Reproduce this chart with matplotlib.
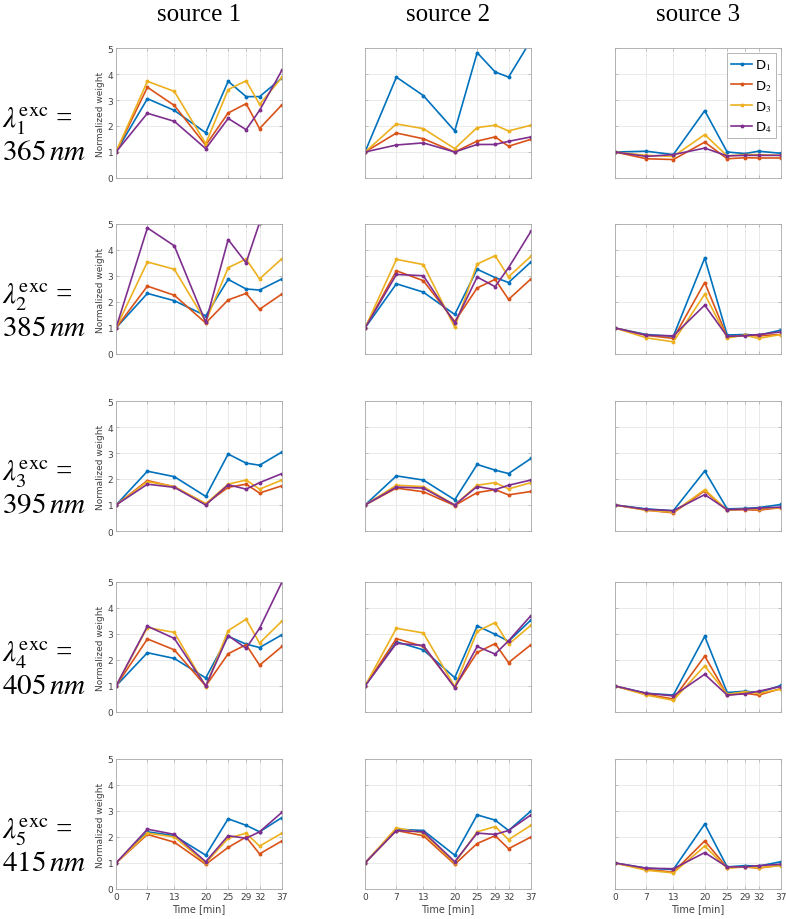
import matplotlib
matplotlib.use("Agg")
import matplotlib.pyplot as plt

plt.rcParams["mathtext.fontset"] = "stix"

TIME = [0, 7, 13, 20, 25, 29, 32, 37]
SOURCES = ["source 1", "source 2", "source 3"]
WAVELENGTHS = [365, 385, 395, 405, 415]
DETECTORS = [r"D$_1$", r"D$_2$", r"D$_3$", r"D$_4$"]
COLORS = ["#0072BD", "#D95319", "#EDB120", "#7E2F8E"]

# each block: D1, D2, D3, D4 normalized weights over TIME
s1_365 = [
    [1, 3.05, 2.60, 1.74, 3.72, 3.13, 3.13, 3.85],
    [1, 3.49, 2.79, 1.26, 2.50, 2.86, 1.90, 2.82],
    [1, 3.72, 3.33, 1.32, 3.40, 3.74, 2.83, 3.87],
    [1, 2.49, 2.18, 1.13, 2.29, 1.86, 2.60, 4.15],
]
s2_365 = [
    [1, 3.88, 3.17, 1.81, 4.82, 4.08, 3.88, 5.30],
    [1, 1.73, 1.51, 1.00, 1.42, 1.58, 1.22, 1.49],
    [1, 2.08, 1.90, 1.13, 1.94, 2.03, 1.81, 2.03],
    [1, 1.27, 1.35, 1.00, 1.29, 1.29, 1.41, 1.58],
]
s3_365 = [
    [1, 1.03, 0.90, 2.59, 1.00, 0.94, 1.03, 0.95],
    [1, 0.74, 0.71, 1.38, 0.74, 0.78, 0.77, 0.77],
    [1, 0.87, 0.83, 1.67, 0.85, 0.90, 0.90, 0.87],
    [1, 0.83, 0.90, 1.15, 0.85, 0.87, 0.87, 0.87],
]

s1_385 = [
    [1, 2.33, 2.05, 1.47, 2.87, 2.50, 2.46, 2.89],
    [1, 2.61, 2.26, 1.19, 2.08, 2.33, 1.72, 2.31],
    [1, 3.54, 3.26, 1.25, 3.32, 3.65, 2.89, 3.67],
    [1, 4.85, 4.16, 1.22, 4.40, 3.51, 5.05, 6.00],
]
s2_385 = [
    [1, 2.70, 2.38, 1.52, 3.26, 2.94, 2.75, 3.54],
    [1, 3.20, 2.82, 1.25, 2.54, 2.87, 2.10, 2.89],
    [1, 3.64, 3.44, 1.03, 3.46, 3.78, 2.97, 3.76],
    [1, 3.06, 3.01, 1.19, 2.96, 2.59, 3.32, 4.72],
]
s3_385 = [
    [1, 0.75, 0.68, 3.69, 0.73, 0.75, 0.72, 0.92],
    [1, 0.72, 0.60, 2.75, 0.65, 0.72, 0.70, 0.75],
    [1, 0.62, 0.47, 2.30, 0.62, 0.72, 0.60, 0.75],
    [1, 0.72, 0.70, 1.88, 0.68, 0.70, 0.75, 0.85],
]

s1_395 = [
    [1, 2.30, 2.09, 1.33, 2.96, 2.61, 2.53, 3.04],
    [1, 1.94, 1.70, 1.05, 1.68, 1.80, 1.46, 1.74],
    [1, 1.90, 1.71, 1.05, 1.80, 1.96, 1.61, 1.96],
    [1, 1.80, 1.68, 1.00, 1.78, 1.61, 1.86, 2.21],
]
s2_395 = [
    [1, 2.12, 1.96, 1.20, 2.56, 2.34, 2.21, 2.79],
    [1, 1.65, 1.51, 0.98, 1.48, 1.59, 1.39, 1.52],
    [1, 1.76, 1.71, 1.00, 1.76, 1.86, 1.62, 1.86],
    [1, 1.69, 1.65, 1.00, 1.71, 1.59, 1.76, 1.96],
]
s3_395 = [
    [1, 0.85, 0.78, 2.31, 0.85, 0.87, 0.90, 1.02],
    [1, 0.80, 0.70, 1.55, 0.80, 0.82, 0.80, 0.90],
    [1, 0.80, 0.72, 1.59, 0.80, 0.85, 0.85, 0.90],
    [1, 0.83, 0.78, 1.40, 0.82, 0.85, 0.88, 0.92],
]

s1_405 = [
    [1, 2.28, 2.06, 1.31, 2.91, 2.61, 2.48, 2.97],
    [1, 2.81, 2.39, 1.00, 2.24, 2.59, 1.80, 2.52],
    [1, 3.25, 3.06, 0.98, 3.13, 3.57, 2.65, 3.50],
    [1, 3.30, 2.83, 1.00, 2.94, 2.45, 3.22, 5.00],
]
s2_405 = [
    [1, 2.70, 2.39, 1.32, 3.31, 2.99, 2.72, 3.54],
    [1, 2.82, 2.52, 0.96, 2.29, 2.63, 1.90, 2.59],
    [1, 3.22, 3.04, 0.98, 3.10, 3.44, 2.60, 3.34],
    [1, 2.64, 2.56, 0.94, 2.52, 2.23, 2.74, 3.71],
]
s3_405 = [
    [1, 0.72, 0.65, 2.91, 0.75, 0.80, 0.75, 1.02],
    [1, 0.68, 0.50, 2.15, 0.65, 0.72, 0.65, 0.90],
    [1, 0.65, 0.45, 1.77, 0.68, 0.78, 0.72, 0.88],
    [1, 0.72, 0.62, 1.45, 0.65, 0.70, 0.80, 0.98],
]

s1_415 = [
    [1, 2.20, 2.05, 1.30, 2.70, 2.45, 2.20, 2.75],
    [1, 2.10, 1.80, 0.95, 1.60, 2.00, 1.35, 1.85],
    [1, 2.15, 2.00, 1.00, 1.95, 2.15, 1.65, 2.15],
    [1, 2.30, 2.10, 1.05, 2.05, 1.95, 2.20, 2.95],
]
s2_415 = [
    [1, 2.30, 2.25, 1.30, 2.85, 2.65, 2.25, 3.00],
    [1, 2.25, 2.05, 0.95, 1.75, 2.05, 1.55, 2.00],
    [1, 2.35, 2.15, 1.00, 2.20, 2.40, 1.90, 2.45],
    [1, 2.25, 2.20, 1.05, 2.15, 2.10, 2.25, 2.85],
]
s3_415 = [
    [1, 0.80, 0.75, 2.50, 0.85, 0.90, 0.88, 1.05],
    [1, 0.75, 0.65, 1.85, 0.82, 0.85, 0.80, 0.92],
    [1, 0.72, 0.62, 1.65, 0.80, 0.85, 0.82, 0.90],
    [1, 0.80, 0.78, 1.40, 0.85, 0.85, 0.90, 0.95],
]

GRID = [
    [s1_365, s2_365, s3_365],
    [s1_385, s2_385, s3_385],
    [s1_395, s2_395, s3_395],
    [s1_405, s2_405, s3_405],
    [s1_415, s2_415, s3_415],
]

W, H = 786, 920
fig = plt.figure(figsize=(W / 100, H / 100), dpi=100)

col_left = [116, 365, 615]
row_top = [49, 225, 402, 583, 760]
ax_w, ax_h = 166, 130

for r in range(5):
    for c in range(3):
        left = col_left[c] / W
        bottom = 1 - (row_top[r] + ax_h) / H
        ax = fig.add_axes([left, bottom, ax_w / W, ax_h / H])
        for d in range(4):
            ax.plot(TIME, GRID[r][c][d], color=COLORS[d], lw=1.2,
                    marker="o", ms=1.8, label=DETECTORS[d])
        ax.set_xlim(0, 37)
        ax.set_ylim(0, 5)
        ax.set_xticks(TIME)
        ax.set_yticks([0, 1, 2, 3, 4, 5])
        ax.grid(True, color="#e6e6e6", lw=0.6)
        ax.set_axisbelow(True)
        for sp in ax.spines.values():
            sp.set_color("#aaaaaa")
            sp.set_linewidth(0.6)
        ax.tick_params(direction="in", length=2.5, width=0.5, colors="#aaaaaa",
                       labelcolor="#404040", labelsize=6.5, top=True, right=True, pad=2)
        if c == 0:
            ax.set_ylabel("Normalized weight", fontsize=6.5, color="#404040", labelpad=2)
        else:
            ax.set_yticklabels([])
        if r == 4:
            ax.set_xlabel("Time [min]", fontsize=7, color="#404040", labelpad=2)
        else:
            ax.set_xticklabels([])
        if r == 0 and c == 2:
            leg = ax.legend(loc="upper right", fontsize=9.5, handlelength=1.6,
                            handletextpad=0.2, borderpad=0.3, labelspacing=0.45,
                            borderaxespad=0.4, fancybox=False, framealpha=1)
            leg.get_frame().set_edgecolor("#aaaaaa")
            leg.get_frame().set_linewidth(0.6)
        if r == 0:
            fig.text((col_left[c] + ax_w / 2) / W, 1 - 15 / H, SOURCES[c],
                     ha="center", va="center", fontsize=18, family="Liberation Serif")

    # row label: two lines, baselines placed relative to the row's axes top
    fig.text(2 / W, 1 - (row_top[r] + 78) / H,
             r"$\lambda_{%d}^{\mathrm{exc}}$ =" % (r + 1),
             ha="left", va="baseline", fontsize=21, family="Liberation Serif")
    fig.text(2 / W, 1 - (row_top[r] + 111) / H, r"$%d\,nm$" % WAVELENGTHS[r],
             ha="left", va="baseline", fontsize=21, family="Liberation Serif")

fig.savefig("out.png", dpi=100)
